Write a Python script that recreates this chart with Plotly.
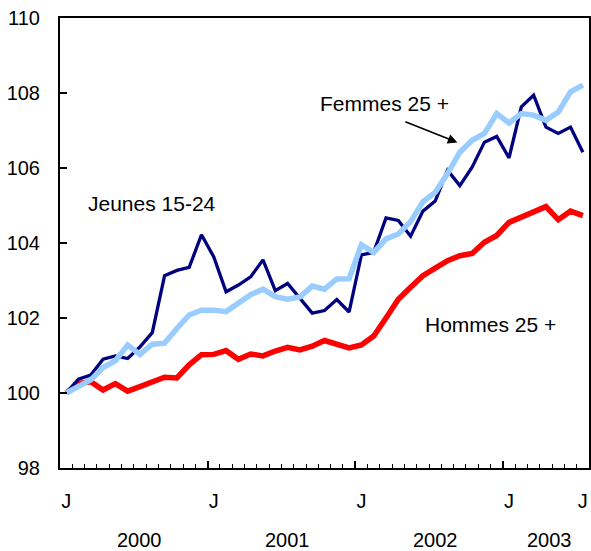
import plotly.graph_objects as go

months = list(range(43))  # Jan 2000 .. Jul 2003

jeunes = [100.0, 100.37, 100.48, 100.9, 100.99, 100.92, 101.23, 101.61, 103.13, 103.27,
          103.35, 104.22, 103.63, 102.7, 102.88, 103.1, 103.55, 102.73, 102.92, 102.53,
          102.13, 102.2, 102.49, 102.16, 103.68, 103.75, 104.67, 104.6, 104.18, 104.85,
          105.12, 105.94, 105.53, 106.02, 106.69, 106.84, 106.27, 107.63, 107.94, 107.09,
          106.92, 107.09, 106.42]
femmes = [100.0, 100.17, 100.35, 100.68, 100.86, 101.28, 101.03, 101.3, 101.33, 101.72,
          102.08, 102.21, 102.21, 102.17, 102.41, 102.62, 102.77, 102.57, 102.5, 102.56,
          102.85, 102.77, 103.04, 103.05, 103.95, 103.75, 104.11, 104.24, 104.57, 105.1,
          105.35, 105.85, 106.42, 106.74, 106.92, 107.45, 107.2, 107.45, 107.41, 107.27,
          107.49, 108.03, 108.21]
hommes = [100.0, 100.25, 100.3, 100.08, 100.25, 100.05, 100.17, 100.3, 100.42, 100.4,
          100.75, 101.02, 101.03, 101.13, 100.9, 101.04, 100.99, 101.12, 101.22, 101.15,
          101.25, 101.4, 101.3, 101.2, 101.28, 101.52, 102.0, 102.5, 102.82, 103.13,
          103.33, 103.53, 103.66, 103.72, 104.02, 104.2, 104.55, 104.7, 104.85, 104.97,
          104.62, 104.85, 104.73]

tick_pos = [0, 12, 24, 36, 42]
tick_text = ["J", "J", "J", "J", "J"]
years = ["2000", "2001", "2002", "2003"]
year_pos = [6, 18, 30, 39.3]
y_ticks = [98, 100, 102, 104, 106, 108, 110]

FONT = "Liberation Sans, Arial, sans-serif"

fig = go.Figure()
fig.add_trace(go.Scatter(x=months, y=hommes, mode="lines",
                         line=dict(color="#FF0000", width=5.5), name="Hommes 25 +"))
fig.add_trace(go.Scatter(x=months, y=jeunes, mode="lines",
                         line=dict(color="#000080", width=3.3), name="Jeunes 15-24"))
fig.add_trace(go.Scatter(x=months, y=femmes, mode="lines",
                         line=dict(color="#99CCFF", width=5.5), name="Femmes 25 +"))
# invisible trace to host label axis
fig.add_trace(go.Scatter(x=[months[0]], y=[hommes[0]], xaxis="x2", mode="markers",
                         marker=dict(opacity=0), showlegend=False, hoverinfo="skip"))

fig.update_layout(
    width=591, height=551,
    margin=dict(l=60, r=2, t=18, b=83, autoexpand=False),
    paper_bgcolor="white", plot_bgcolor="white",
    showlegend=False,
    font=dict(family=FONT, size=20, color="black"),
    xaxis=dict(range=[-0.5, 42.5], showgrid=False, zeroline=False, automargin=False,
               showline=True, linecolor="black", linewidth=2, mirror=True,
               tickmode="array", tickvals=[-0.5, 11.5, 23.5, 35.5],
               ticks="inside", ticklen=7, tickwidth=1.5, tickcolor="black",
               showticklabels=False,
               minor=dict(tickmode="linear", tick0=-0.5, dtick=1, ticks="inside",
                          ticklen=4, tickwidth=1.2, tickcolor="black", showgrid=False)),
    xaxis2=dict(range=[-0.5, 42.5], overlaying="x", side="bottom", showgrid=False,
                zeroline=False, showline=False, tickmode="array", automargin=False,
                tickvals=tick_pos, ticktext=tick_text, ticks="",
                ticklabelstandoff=19, tickfont=dict(size=20)),
    yaxis=dict(range=[98, 110], showgrid=False, zeroline=False, automargin=False,
               showline=True, linecolor="black", linewidth=2, mirror=True,
               tickmode="array", tickvals=y_ticks, ticks="inside", ticklen=7,
               tickwidth=1.5, tickcolor="black", ticklabelstandoff=14,
               tickfont=dict(size=20)),
)

for yr, xp in zip(years, year_pos):
    fig.add_annotation(x=xp, y=-0.161, xref="x", yref="paper", text=yr,
                       showarrow=False, font=dict(size=20), yanchor="middle")

fig.add_annotation(x=7.0, y=105.05, text="Jeunes 15-24", showarrow=False,
                   font=dict(size=21))
fig.add_annotation(x=34.5, y=101.84, text="Hommes 25 +", showarrow=False,
                   font=dict(size=21))
fig.add_annotation(x=25.85, y=107.72, text="Femmes 25 +", showarrow=False,
                   font=dict(size=21))
fig.add_annotation(x=31.8, y=106.68, ax=27.45, ay=107.25, axref="x", ayref="y",
                   text="", showarrow=True, arrowhead=2, arrowsize=1.2,
                   arrowwidth=1.6, arrowcolor="black")

# remove the default page margin so the 591x551 figure fills the window exactly
fig.write_html("out.html",
               config={"displayModeBar": False},
               post_script="document.body.style.margin='0';"
                           "document.body.style.overflow='hidden';")
